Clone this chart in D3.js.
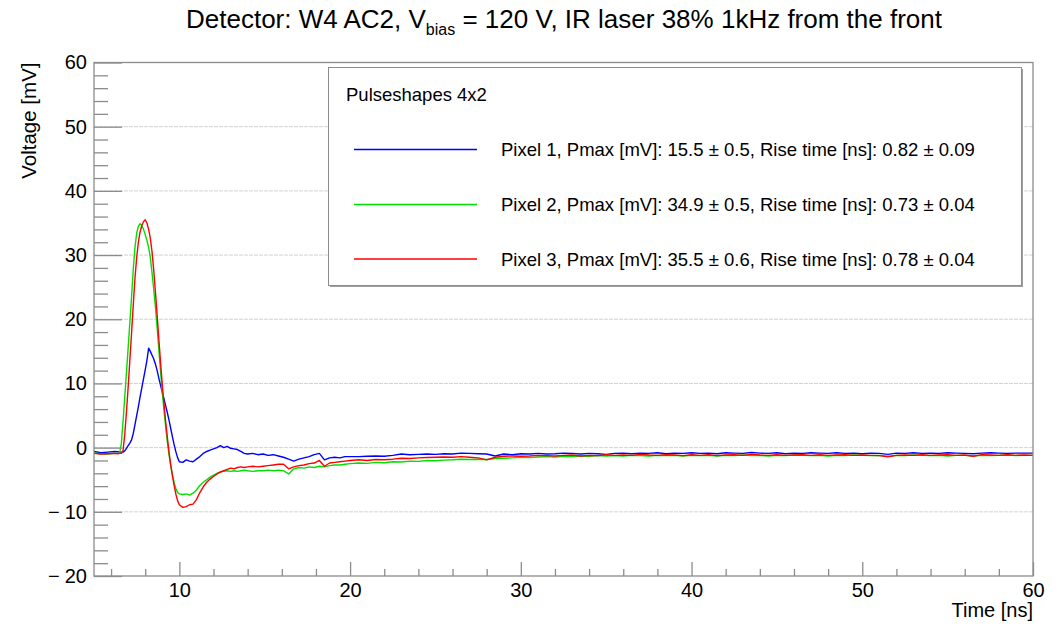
<!DOCTYPE html>
<html>
<head>
<meta charset="utf-8">
<script src="https://cdn.jsdelivr.net/npm/d3@7"></script>
<style>
  html, body { margin: 0; padding: 0; background: #fff; }
  svg { display: block; font-family: "Liberation Sans", Arial, Helvetica, sans-serif; }
</style>
</head>
<body>
<svg id="chart" width="1061" height="625"></svg>
<script>
// Sample times (ns), shared by all three pixel waveforms
const timeNs = [
  5.0, 5.4, 5.8, 6.2, 6.4, 6.5,
  6.6, 6.7, 6.8, 6.9, 7.0, 7.1, 7.2, 7.3, 7.4, 7.5,
  7.6, 7.7, 7.8, 7.9, 8.0, 8.1, 8.2, 8.3, 8.4, 8.5,
  8.6, 8.7, 8.8, 8.9, 9.0, 9.1, 9.2, 9.3, 9.4, 9.5,
  9.6, 9.7, 9.8, 9.9, 10.0,
  10.2, 10.4, 10.6, 10.8, 11.0, 11.2, 11.4, 11.6, 11.8, 12.0,
  12.2, 12.4, 12.6, 12.8, 13.0, 13.2, 13.4, 13.6, 13.8, 14.0,
  14.3, 14.6, 14.9, 15.2, 15.5, 15.8, 16.1, 16.4, 16.7, 17.0,
  17.3, 17.6, 17.9, 18.2, 18.5, 18.8, 19.1, 19.4, 19.7, 20.0,
  20.5, 21, 21.5, 22, 22.5, 23, 23.5, 24, 24.5, 25,
  25.5, 26, 26.5, 27, 27.5, 28, 28.5, 29, 29.5, 30,
  30.5, 31, 31.5, 32, 32.5, 33, 33.5, 34, 34.5, 35,
  35.5, 36, 36.5, 37, 37.5, 38, 38.5, 39, 39.5, 40,
  40.5, 41, 41.5, 42, 42.5, 43, 43.5, 44, 44.5, 45,
  45.5, 46, 46.5, 47, 47.5, 48, 48.5, 49, 49.5, 50,
  50.5, 51, 51.5, 52, 52.5, 53, 53.5, 54, 54.5, 55,
  55.5, 56, 56.5, 57, 57.5, 58, 58.5, 59, 59.5, 60
];

// Pixel 1 voltage (mV)
const pixel1 = [
  -0.6, -0.8, -0.7, -0.6, -0.65, -0.7,
  -0.7, -0.7, -0.5, -0.1, 0.3, 0.7, 1.2, 2.2, 3.6, 5.0,
  6.4, 7.9, 9.3, 10.7, 12.1, 13.6, 15.5, 15.0, 14.4, 13.8,
  13.0, 12.0, 10.8, 9.7, 8.6, 7.6, 6.5, 5.4, 4.2, 2.9,
  1.6, 0.4, -0.7, -1.6, -2.2,
  -2.3, -1.9, -2.1, -2.2, -1.8, -1.4, -0.9, -0.6, -0.4, -0.2,
  0.0, 0.3, 0.0, 0.2, -0.1, -0.2, -0.3, -0.6, -0.9, -1.0,
  -0.9, -1.1, -1.0, -1.2, -1.1, -1.3, -1.5, -1.8, -2.1, -1.8,
  -1.6, -1.4, -1.1, -0.9, -1.9, -1.6, -1.5, -1.6, -1.4, -1.4,
  -1.4, -1.35, -1.3, -1.35, -1.2, -1.0, -1.1, -1.05, -1.0, -1.05,
  -0.95, -1.0, -0.85, -0.9, -0.95, -1.0, -1.3, -1.0, -1.1, -0.95,
  -1.0, -0.9, -1.0, -0.95, -0.85, -0.9, -1.0, -0.9, -0.95, -1.05,
  -0.9, -0.85, -0.95, -0.85, -0.9, -0.8, -0.95, -0.85, -0.9, -0.8,
  -0.9, -0.85, -0.95, -0.8, -0.85, -0.9, -0.75, -0.85, -0.9, -0.8,
  -0.95, -0.85, -0.9, -0.8, -0.85, -0.9, -0.8, -0.9, -0.85, -0.95,
  -0.85, -0.9, -1.05, -0.85, -0.9, -0.8, -0.9, -0.85, -0.9, -0.8,
  -0.85, -0.9, -0.95, -0.85, -0.8, -0.85, -0.9, -0.85, -0.85, -0.85
];

// Pixel 2 voltage (mV)
const pixel2 = [
  -0.8, -1.0, -1.0, -0.9, -0.9, -0.85,
  0.6, 4.0, 7.8, 11.6, 15.5, 19.5, 23.5, 27.8, 31.2, 33.4,
  34.5, 34.9, 34.6, 34.0, 33.2, 32.3, 31.2, 29.6, 27.2, 24.6,
  21.8, 18.6, 15.2, 11.8, 8.6, 5.8, 3.2, 0.8, -1.2, -2.9,
  -4.3, -5.5, -6.4, -7.0, -7.2,
  -7.3, -7.2, -7.4, -7.1, -6.6, -5.9, -5.4, -5.0, -4.6, -4.3,
  -4.0, -3.8, -3.7, -3.6, -3.7, -3.6, -3.7, -3.6, -3.5, -3.6,
  -3.7, -3.6, -3.6, -3.5, -3.6, -3.5, -3.6, -4.1, -3.3, -3.1,
  -3.2, -3.0, -3.1, -2.9, -3.0, -2.8, -2.7, -2.7, -2.6, -2.5,
  -2.4, -2.45, -2.3, -2.35, -2.2, -2.25, -2.1, -2.15, -2.0, -2.05,
  -1.95, -1.9, -1.8, -1.85, -1.8, -1.85, -1.7, -1.65, -1.6, -1.5,
  -1.55, -1.45, -1.4, -1.45, -1.35, -1.4, -1.3, -1.35, -1.25, -1.3,
  -1.25, -1.3, -1.2, -1.25, -1.3, -1.2, -1.25, -1.2, -1.3, -1.2,
  -1.25, -1.2, -1.3, -1.2, -1.25, -1.15, -1.25, -1.2, -1.3, -1.2,
  -1.25, -1.15, -1.2, -1.25, -1.2, -1.3, -1.2, -1.25, -1.15, -1.2,
  -1.25, -1.2, -1.35, -1.2, -1.25, -1.15, -1.2, -1.25, -1.2, -1.3,
  -1.2, -1.2, -1.3, -1.2, -1.25, -1.2, -1.15, -1.25, -1.2, -1.2
];

// Pixel 3 voltage (mV)
const pixel3 = [
  -0.9, -1.0, -0.95, -0.9, -0.95, -0.9,
  -0.9, -0.5, 2.0, 5.5, 9.4, 13.6, 17.8, 22.2, 26.4, 29.6,
  32.0, 33.6, 34.6, 35.2, 35.5, 35.0, 34.0, 32.6, 30.5, 27.6,
  24.2, 20.6, 16.8, 13.2, 9.8, 6.8, 4.0, 1.5, -0.8, -2.8,
  -4.5, -6.0, -7.3, -8.3, -8.9,
  -9.3, -9.2, -8.9, -8.8, -8.1, -7.0, -6.1, -5.4, -4.9, -4.5,
  -4.1, -3.8, -3.6, -3.4, -3.2, -3.3, -3.1, -3.0, -3.1, -3.0,
  -2.9, -3.0, -2.9, -2.8, -2.7, -2.6, -2.6, -3.3, -3.0, -2.8,
  -2.7, -2.5, -2.4, -2.0, -2.9, -2.4, -2.3, -2.2, -2.1, -2.0,
  -1.9, -2.0, -1.85, -1.9, -1.8, -1.65, -1.7, -1.6, -1.55, -1.5,
  -1.45, -1.5, -1.4, -1.5, -1.6, -1.9, -1.5, -1.35, -1.3, -1.35,
  -1.3, -1.2, -1.25, -1.3, -1.2, -1.15, -1.3, -1.2, -1.25, -1.1,
  -1.2, -1.15, -1.2, -1.05, -1.15, -1.2, -1.1, -1.15, -1.25, -1.1,
  -1.2, -1.1, -1.25, -1.15, -1.1, -1.2, -1.05, -1.15, -1.2, -1.1,
  -1.2, -1.15, -1.1, -1.2, -1.1, -1.2, -1.15, -1.1, -1.2, -1.15,
  -1.2, -1.25, -1.45, -1.2, -1.15, -1.2, -1.1, -1.2, -1.15, -1.1,
  -1.2, -1.15, -1.35, -1.1, -1.15, -1.2, -1.1, -1.2, -1.15, -1.2
];

// Per-pixel fit results shown in the legend
const pixelNames = ["Pixel 1", "Pixel 2", "Pixel 3"];
const pmaxValues = [15.5, 34.9, 35.5];
const pmaxErrors = [0.5, 0.5, 0.6];
const riseTimes = [0.82, 0.73, 0.78];
const riseErrors = [0.09, 0.04, 0.04];
const seriesColors = ["#0000ff", "#00e000", "#ff0000"];

// Axis ticks
const xMajorTicks = [10, 20, 30, 40, 50, 60];
const xMinorTicks = [6, 8, 12, 14, 16, 18, 22, 24, 26, 28, 32, 34, 36, 38, 42, 44, 46, 48, 52, 54, 56, 58];
const yMajorTicks = [-20, -10, 0, 10, 20, 30, 40, 50, 60];
const yMinorTicks = [-18, -16, -14, -12, -8, -6, -4, -2, 2, 4, 6, 8, 12, 14, 16, 18,
                     22, 24, 26, 28, 32, 34, 36, 38, 42, 44, 46, 48, 52, 54, 56, 58];
const yGridTicks = [-10, 0, 10, 20, 30, 40, 50];

const svg = d3.select("#chart");
const frame = { left: 94, right: 1033, top: 62.5, bottom: 576 };

const x = d3.scaleLinear().domain([5, 60]).range([frame.left, frame.right]);
const y = d3.scaleLinear().domain([-20, 60]).range([frame.bottom, frame.top]);

const axisColor = "#8c8c8c";
const labelFont = "'Liberation Sans', Arial, sans-serif";

// Horizontal dotted grid
svg.append("g").selectAll("line").data(yGridTicks).join("line")
  .attr("x1", frame.left).attr("x2", frame.right)
  .attr("y1", d => y(d)).attr("y2", d => y(d))
  .attr("stroke", "#d2d2d2").attr("stroke-width", 1)
  .attr("stroke-dasharray", "4,1");

// Clip for waveforms
svg.append("clipPath").attr("id", "plotClip").append("rect")
  .attr("x", frame.left).attr("y", frame.top)
  .attr("width", frame.right - frame.left).attr("height", frame.bottom - frame.top);

const series = [pixel1, pixel2, pixel3];
const line = d3.line()
  .x(d => x(d[0]))
  .y(d => y(d[1]));

const traces = svg.append("g").attr("clip-path", "url(#plotClip)");
series.forEach((vals, i) => {
  const pts = timeNs.map((t, k) => [t, vals[k]]);
  traces.append("path")
    .datum(pts)
    .attr("d", line)
    .attr("fill", "none")
    .attr("stroke", seriesColors[i])
    .attr("stroke-width", 1.4)
    .attr("stroke-linejoin", "round");
});

// Y axis: major and minor ticks pointing into the frame
const yAxisMajor = d3.axisLeft(y).tickValues(yMajorTicks)
  .tickSizeInner(-28).tickSizeOuter(0).tickPadding(7)
  .tickFormat(d3.format("d"));
const yAxisMinor = d3.axisLeft(y).tickValues(yMinorTicks)
  .tickSizeInner(-14).tickSizeOuter(0).tickFormat("");

const gyMinor = svg.append("g").attr("transform", `translate(${frame.left},0)`).call(yAxisMinor);
const gyMajor = svg.append("g").attr("transform", `translate(${frame.left},0)`).call(yAxisMajor);

// X axis: ticks pointing up into the frame
const xAxisMajor = d3.axisBottom(x).tickValues(xMajorTicks)
  .tickSizeInner(-14).tickSizeOuter(0).tickPadding(9)
  .tickFormat(d3.format("d"));
const xAxisMinor = d3.axisBottom(x).tickValues(xMinorTicks)
  .tickSizeInner(-7).tickSizeOuter(0).tickFormat("");

const gxMinor = svg.append("g").attr("transform", `translate(0,${frame.bottom})`).call(xAxisMinor);
const gxMajor = svg.append("g").attr("transform", `translate(0,${frame.bottom})`).call(xAxisMajor);

[gyMinor, gyMajor, gxMinor, gxMajor].forEach(g => {
  g.select(".domain").remove();
  g.selectAll(".tick line").attr("stroke", axisColor).attr("stroke-width", 1.3);
  g.selectAll(".tick text").attr("fill", "#000").attr("font-size", 20)
    .attr("font-family", labelFont);
});
gxMajor.selectAll(".tick text").attr("dy", "0.62em");

// Negative labels: a wider gap between the minus sign and the digits
gyMajor.selectAll(".tick text").each(function(d) {
  if (d < 0) {
    const t = d3.select(this);
    t.text(null);
    t.append("tspan").text("\u2212");
    t.append("tspan").attr("dx", 5).text(String(Math.abs(d)));
  }
});

// Frame
svg.append("rect")
  .attr("x", frame.left).attr("y", frame.top)
  .attr("width", frame.right - frame.left).attr("height", frame.bottom - frame.top)
  .attr("fill", "none").attr("stroke", axisColor).attr("stroke-width", 1.3);

// Axis titles
svg.append("text")
  .attr("x", frame.right).attr("y", 617)
  .attr("text-anchor", "end").attr("font-size", 20)
  .text("Time [ns]");

svg.append("text")
  .attr("transform", `translate(36,${frame.top}) rotate(-90)`)
  .attr("text-anchor", "end").attr("font-size", 20.5)
  .text("Voltage [mV]");

// Title with subscript
const title = svg.append("text")
  .attr("x", 564).attr("y", 28)
  .attr("text-anchor", "middle").attr("font-size", 26);
title.append("tspan").text("Detector: W4 AC2, V");
title.append("tspan").attr("font-size", 16).attr("dy", 7).text("bias");
title.append("tspan").attr("dy", -7).text(" = 120 V, IR laser 38% 1kHz from the front");

// Legend box
const legend = { x: 328.5, y: 67.5, w: 693, h: 218 };
svg.append("rect")
  .attr("x", legend.x + 1.5).attr("y", legend.y + 1.5)
  .attr("width", legend.w).attr("height", legend.h)
  .attr("fill", "#a0a0a0");
svg.append("rect")
  .attr("x", legend.x).attr("y", legend.y)
  .attr("width", legend.w).attr("height", legend.h)
  .attr("fill", "#fff").attr("stroke", "#8c8c8c").attr("stroke-width", 1);

svg.append("text")
  .attr("x", 346).attr("y", 101)
  .attr("font-size", 18.5)
  .text("Pulseshapes 4x2");

const entryY = [149.5, 204.5, 259];
pixelNames.forEach((name, i) => {
  svg.append("line")
    .attr("x1", 354).attr("x2", 477)
    .attr("y1", entryY[i]).attr("y2", entryY[i])
    .attr("stroke", seriesColors[i]).attr("stroke-width", 1.4);
  svg.append("text")
    .attr("x", 501).attr("y", entryY[i] + 6.5)
    .attr("font-size", 18.5)
    .text(`${name}, Pmax [mV]: ${pmaxValues[i].toFixed(1)} \u00b1 ${pmaxErrors[i].toFixed(1)}, Rise time [ns]: ${riseTimes[i].toFixed(2)} \u00b1 ${riseErrors[i].toFixed(2)}`);
});
</script>
</body>
</html>
